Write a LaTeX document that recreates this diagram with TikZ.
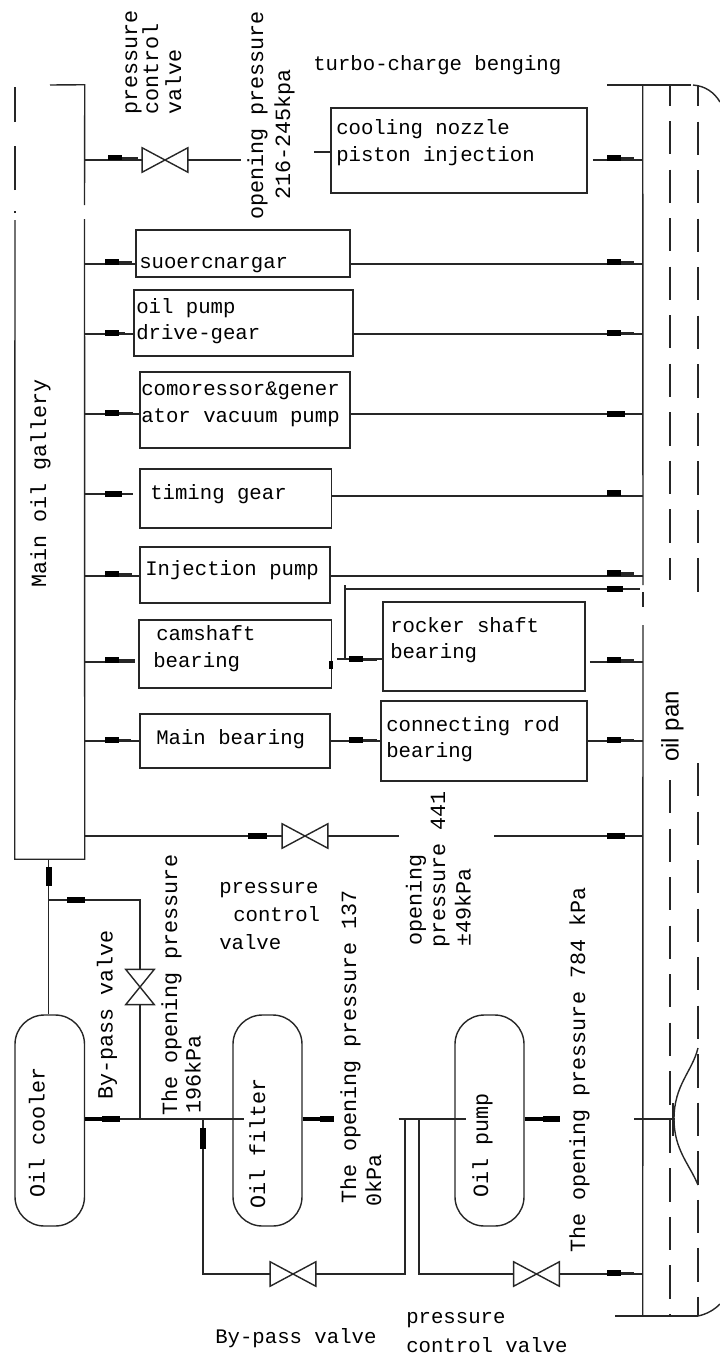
\documentclass[tikz,border=0pt]{standalone}
\usepackage{fontspec}
\setmainfont{Liberation Mono}
\newfontfamily\pansans{Liberation Sans}
\usetikzlibrary{fit}
\tikzset{
  pipe/.style={line width=1.05pt, draw=black!85, line cap=butt},
  thick pipe/.style={line width=2.6pt, draw=black},
  blk/.style={line width=4.4pt, draw=black, line cap=butt},
  dashpan/.style={line width=1.05pt, draw=black!85, dash pattern=on 25pt off 11.4pt},
  unit/.style={draw=black!85, line width=1.15pt, inner sep=0pt},
  tank/.style={draw=black!85, line width=1.05pt, inner sep=0pt, rounded corners=22pt},
  ghost/.style={inner sep=0pt},
  valvebox/.style={inner sep=0pt, minimum width=34pt, minimum height=18pt},
  vvalvebox/.style={inner sep=0pt, minimum width=21pt, minimum height=26pt},
  lab/.style={font=\fontsize{15.5}{18}\selectfont, inner sep=0pt, anchor=base west},
  vlab/.style={font=\fontsize{16.3}{18}\selectfont, inner sep=0pt, anchor=base west, rotate=90},
}
\newcommand{\hvalve}[2]{%
  \node[valvebox] (#1) at (#2) {};
  \draw[pipe] (#1.north west) -- (#1.south east) -- (#1.north east) -- (#1.south west) -- cycle;
}
\newcommand{\vvalve}[2]{%
  \node[vvalvebox] (#1) at (#2) {};
  \draw[pipe] (#1.north west) -- (#1.south east) -- (#1.south west) -- (#1.north east) -- cycle;
}
\begin{document}
\begin{tikzpicture}[x=0.75pt,y=-0.75pt]
\useasboundingbox (0,0) rectangle (720,1356);
\node[ghost, fit={(15,85) (84.5,859)}] (gallery) {};
\node[ghost, fit={(643,85) (698,1316)}] (pan) {};
\draw[pipe] (50,85) -- (gallery.north east) -- (84.5,205);
\draw[pipe] (84.5,219) -- (gallery.south east) -- (gallery.south west) -- (15,220);
\draw[pipe] (15,213) -- (15,211) (15,190) -- (15,146) (15,122) -- (15,87);
\node[unit, fit={(331,108) (587,193)}] (cooling) {};
\node[unit, fit={(136,230) (350,277)}] (super) {};
\node[unit, fit={(134,290) (353,356)}] (oilgear) {};
\node[unit, fit={(140,372) (350,448)}] (compress) {};
\node[unit, fit={(140,469) (331.5,528)}] (timing) {};
\node[unit, fit={(140,547) (330,603)}] (inject) {};
\node[unit, fit={(139,620) (331.5,688)}] (camshaft) {};
\node[unit, fit={(383,602) (585,691)}] (rocker) {};
\node[unit, fit={(140,714) (330,768)}] (mainbrg) {};
\node[unit, fit={(381,701) (587,781)}] (connrod) {};
\node[tank, fit={(15,1015) (84.5,1226)}] (cooler) {};
\node[tank, fit={(233,1015) (302,1226)}] (filter) {};
\node[tank, fit={(455,1015) (524,1226)}] (oilpump) {};
\hvalve{vtop}{165,160}
\hvalve{vrow}{305,836}
\vvalve{vbypass}{140,987}
\hvalve{vlow}{293,1274}
\hvalve{vrelief}{536.5,1274}
\coordinate (opena) at (241,160);
\coordinate (openb) at (314,152);
\coordinate (gapa) at (399,836);
\coordinate (gapb) at (494,836);
\coordinate (jtop) at (48.7,900);
\coordinate (jcool) at (140,1119);
\coordinate (jlow) at (203,1119);
\coordinate (jbusl) at (405,1119);
\coordinate (jbusr) at (419,1119);
\coordinate (busend) at (398.5,1119);
\coordinate (filterin) at (244,1119);
\coordinate (pumpin) at (466,1119);
\coordinate (panline) at (634,1119);
\coordinate (pantick) at (675,1119);
\coordinate (rockup) at (345,589);
\coordinate (rockin) at (345,659);
\coordinate (camout) at (337,659);
% upper rows
\draw[pipe] (gallery.east |- vtop.west) -- (vtop.west);
\draw[pipe] (vtop.east) -- (opena);
\draw[pipe] (openb) -- (cooling.west |- openb);
\draw[pipe] (cooling.east |- vtop) ++(5,0) -- (pan.west |- vtop);
\foreach \unitname/\yy in {super/264, oilgear/334, compress/414, inject/576} {
  \draw[pipe] (gallery.east |- 0,\yy) -- (\unitname.west |- 0,\yy);
  \draw[pipe] (\unitname.east |- 0,\yy) -- (pan.west |- 0,\yy);
}
\draw[pipe] (gallery.east |- 0,494) -- (133,494);
\draw[pipe] (timing.east |- 0,496) -- (pan.west |- 0,496);
\draw[pipe] (gallery.east |- 0,662) -- (135,662);
\draw[pipe] (rocker.east |- 0,662) ++(4,0) -- (pan.west |- 0,662);
\draw[pipe] (rockup) ++(0,-4) -- (rockin);
\draw[pipe] (rockup) -- (640,589);
\draw[pipe] (camout) -- (rocker.west |- camout);
\draw[pipe] (gallery.east |- 0,741) -- (mainbrg.west |- 0,741);
\draw[pipe] (mainbrg.east |- 0,741) -- (connrod.west |- 0,741);
\draw[pipe] (connrod.east |- 0,741) -- (pan.west |- 0,741);
\draw[pipe] (gallery.east |- vrow) -- (vrow.west);
\draw[pipe] (vrow.east) -- (gapa);
\draw[pipe] (gapb) -- (pan.west |- gapb);
% lower part
\draw[pipe] (jtop |- gallery.south) -- (jtop |- cooler.north);
\draw[pipe] (jtop) -- (jtop -| vbypass) -- (vbypass.north);
\draw[pipe] (vbypass.south) -- (jcool);
\draw[thick pipe] (cooler.east |- jcool) -- (102,1119);
\draw[pipe] (102,1119) -- (filterin);
\draw[thick pipe] (filter.east |- jcool) -- (320,1119);
\draw[pipe] (busend) -- (pumpin);
\draw[thick pipe] (oilpump.east |- jcool) -- (543,1119);
\draw[pipe] (panline) -- (pantick);
\draw[pipe] (jlow) |- (vlow.west);
\draw[pipe] (vlow.east) -| (jbusl);
\draw[pipe] (jbusr) |- (vrelief.west);
\draw[pipe] (vrelief.east) -- (pan.west |- vrelief);
\draw[pipe] (673,1103) -- (673,1136);
% marks
\foreach \xx/\yy/\tailx in {108/157.5/138, 105/262/132, 105/333/125, 105/413/133, 105/574/132, 105/660/135, 105/740/131, 349/659/377, 349/740/377, 607/158/634, 607/262/634, 607/333/634, 607/573/634, 607/660/634, 607/740/634, 607/1273/634} {
  \draw[blk] (\xx,\yy) -- ++(14,0);
  \draw[pipe, line width=1.6pt] (\xx,\yy) ++(14,0.5) -- (\tailx,\yy+0.5);
}
\foreach \xx/\yy/\ww in {105/494/17, 607/414/18, 607/493/14, 607/589/16, 607/836/18, 248/836/19, 67/900/18, 102/1119/18, 320/1119/14, 543/1119/17} {
  \draw[blk] (\xx,\yy) -- ++(\ww,0);
}
\draw[blk] (48.7,867) -- (48.7,886);
\draw[blk] (203,1128) -- (203,1149);
\draw[blk, line width=2.4pt] (331,661) -- (331,669);
% oil pan
\draw[pipe] (607,85) -- (691,85);
\draw[pipe] (615,1316) -- (698,1316);
\draw[pipe] (pan.west |- 0,85) -- (643,585);
\draw[pipe] (643,592) -- (643,607);
\draw[pipe] (643,625) -- (pan.south west);
\draw[dashpan, dash phase=9.4pt] (670,85) -- (670,580);
\draw[dashpan, dash phase=9pt] (698,85) -- (698,597);
\draw[dashpan] (670,780) -- (670,1316);
\draw[dashpan] (698,763) -- (698,1316);
\draw[pipe] (693,85) .. controls (705,86) and (714,92) .. (720,102);
\draw[pipe] (698,1316) .. controls (707,1314) and (714,1310) .. (720,1304);
\draw[pipe] (698,1048) .. controls (692,1072) and (674,1085) .. (674,1119) .. controls (674,1150) and (690,1165) .. (698,1185);
% labels
\node[lab] (turbo) at (313,70) {turbo-charge benging};
\node[lab] (cool1) at (336,134) {cooling nozzle};
\node[lab] (cool2) at (336,161) {piston injection};
\node[lab] (sup1) at (139,268) {suoercnargar};
\node[lab] (gear1) at (136,313) {oil pump};
\node[lab] (gear2) at (136,339) {drive-gear};
\node[lab] (comp1) at (141,395) {comoressor\&gener};
\node[lab] (comp2) at (141,422) {ator vacuum pump};
\node[lab] (tim1) at (150,499) {timing gear};
\node[lab] (inj1) at (145,575) {Injection pump};
\node[lab] (cam1) at (156,640) {camshaft};
\node[lab] (cam2) at (153,667) {bearing};
\node[lab] (roc1) at (390,632) {rocker shaft};
\node[lab] (roc2) at (390,658) {bearing};
\node[lab] (mb1) at (156,744) {Main bearing};
\node[lab] (con1) at (386,731) {connecting rod};
\node[lab] (con2) at (386,757) {bearing};
\node[lab] (pcv1) at (219,893) {pressure};
\node[lab] (pcv2) at (233,921) {control};
\node[lab] (pcv3) at (219,949) {valve};
\node[lab] (bpv) at (215,1343) {By-pass valve};
\node[lab] (pcv4) at (406,1323) {pressure};
\node[lab] (pcv5) at (406,1352) {control valve};
\node[vlab] (gal) at (46,588) {Main oil gallery};
\node[vlab] (coolname) at (44.5,1198) {Oil cooler};
\node[vlab] (filtname) at (265,1209) {Oil filter};
\node[vlab] (pumpname) at (488,1198) {Oil pump};
\node[vlab] (topv1) at (137,115) {pressure};
\node[vlab] (topv2) at (158,115) {control};
\node[vlab] (topv3) at (181,115) {valve};
\node[vlab] (open1) at (263,220) {opening pressure};
\node[vlab] (open2) at (290,200) {216-245kpa};
\node[vlab] (byv) at (112.5,1100) {By-pass valve};
\node[vlab] (open3) at (177,1116) {The opening pressure};
\node[vlab] (open4) at (200.6,1114) {196kPa};
\node[vlab] (open5) at (356,1204) {The opening pressure 137};
\node[vlab] (open6) at (381,1207) {0kPa};
\node[vlab] (open7) at (421.5,946) {opening};
\node[vlab] (open8) at (445,948) {pressure 441};
\node[vlab] (open9) at (470.6,947) {±49kPa};
\node[vlab] (open10) at (585,1253) {The opening pressure 784 kPa};
\node[vlab, font=\pansans\fontsize{18}{18}\selectfont] (panname) at (678.6,762) {oil pan};
\end{tikzpicture}
\end{document}
